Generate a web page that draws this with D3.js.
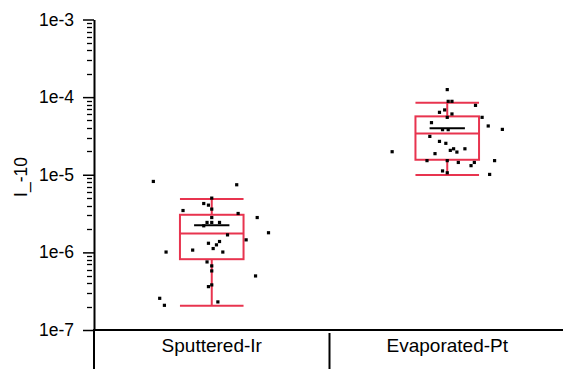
<!DOCTYPE html>
<html>
<head>
<meta charset="utf-8">
<script src="https://cdn.jsdelivr.net/npm/d3@7"></script>
<style>
    body { margin: 0; background: #fff; }
    svg { display: block; font-family: "Liberation Sans", Arial, sans-serif; }
</style>
</head>
<body>
<script>
// Categories on the x-axis
var categories = ['Sputtered-Ir', 'Evaporated-Pt'];

// Box statistics per category
var whiskerLow = [2.06e-7, 9.9e-6];
var q1 = [8.17e-7, 1.56e-5];
var median = [1.75e-6, 3.41e-5];
var q3 = [3.05e-6, 5.65e-5];
var whiskerHigh = [4.86e-6, 8.49e-5];
var mean = [2.24e-6, 3.96e-5];

// Raw points of Sputtered-Ir, with horizontal jitter (fraction of category width)
var irValues = [8.2e-6, 7.43e-6, 5.0e-6, 4.26e-6, 4.06e-6, 3.61e-6, 3.46e-6, 3.17e-6, 2.81e-6, 2.81e-6,
    2.43e-6, 2.43e-6, 2.43e-6, 2.20e-6, 1.79e-6, 1.68e-6, 1.45e-6, 1.38e-6, 1.31e-6, 1.25e-6,
    1.12e-6, 1.07e-6, 1.01e-6, 1.01e-6, 7.53e-7, 6.70e-7, 5.77e-7, 4.97e-7, 3.81e-7, 3.62e-7,
    2.56e-7, 2.30e-7, 2.08e-7];
var irJitter = [-0.248, 0.106, 0, -0.034, -0.014, 0, -0.122, 0.112, 0, 0.193,
    -0.020, 0, 0.033, -0.034, 0.241, 0.067, 0.146, 0.033, -0.014, 0.020,
    0.006, -0.081, -0.194, 0.047, -0.020, 0, 0, 0.186, 0, -0.014,
    -0.221, 0.026, -0.201];

// Raw points of Evaporated-Pt
var ptValues = [1.25e-4, 8.83e-5, 8.83e-5, 7.83e-5, 6.84e-5, 6.37e-5, 6.07e-5, 5.49e-5, 5.49e-5, 4.69e-5,
    4.25e-5, 3.84e-5, 3.81e-5, 3.81e-5, 3.12e-5, 2.69e-5, 2.54e-5, 2.16e-5, 2.16e-5, 2.06e-5,
    1.98e-5, 1.96e-5, 1.87e-5, 1.52e-5, 1.52e-5, 1.52e-5, 1.44e-5, 1.44e-5, 1.31e-5, 1.12e-5,
    1.06e-5, 1.01e-5];
var ptJitter = [0, 0.004, 0.020, 0.120, -0.011, -0.033, 0.020, 0, 0.148, -0.067,
    0.174, 0.234, -0.020, 0.004, -0.074, -0.033, -0.006, 0.027, 0.075, 0.013,
    -0.234, 0.041, -0.052, -0.086, 0, 0.201, 0.047, 0.115, 0.101, -0.020,
    0, 0.180];

// Major tick values and labels
var majorTicks = [1e-3, 1e-4, 1e-5, 1e-6, 1e-7];
var majorLabels = ['1e-3', '1e-4', '1e-5', '1e-6', '1e-7'];

var yLabel = 'I_-10';

var width = 563,
    height = 369,
    margin = { top: 19.5, right: -2, bottom: 39, left: 94 };

var boxColor = '#e8344f';

// Scales
var yScale = d3.scaleLog().domain([1e-7, 1e-3]).range([height - margin.bottom, margin.top]);
var xScale = d3.scaleBand().domain(categories).range([margin.left, width - margin.right]);
var bw = xScale.bandwidth();

function center(c) {
    return xScale(c) + bw / 2;
}

var svg = d3.select('body').append('svg')
    .attr('width', width)
    .attr('height', height);

// minor ticks: 2..9 in each decade
var minorTicks = [];
for (var e = -7; e < -3; e++) {
    for (var m = 2; m <= 9; m++) {
        minorTicks.push(m * Math.pow(10, e));
    }
}

svg.append('g').selectAll('line')
    .data(minorTicks)
    .enter().append('line')
    .attr('x1', margin.left - 7)
    .attr('x2', margin.left - 2)
    .attr('y1', function (d) { return Math.round(yScale(d)) + 0.5; })
    .attr('y2', function (d) { return Math.round(yScale(d)) + 0.5; })
    .attr('stroke', '#000')
    .attr('stroke-width', 1.3);

// y axis with major ticks
var yAxis = d3.axisLeft(yScale)
    .tickValues(majorTicks)
    .tickSize(11)
    .tickSizeOuter(0)
    .tickPadding(9)
    .tickFormat(function (d, i) { return majorLabels[i]; });

var gy = svg.append('g')
    .attr('transform', 'translate(' + margin.left + ',0)')
    .call(yAxis);
gy.select('.domain').attr('stroke-width', 2);
gy.selectAll('.tick line').attr('stroke-width', 1.5);
gy.selectAll('.tick text')
    .attr('font-size', 17.5)
    .attr('font-family', '"Liberation Sans", Arial, sans-serif')
    .attr('fill', '#000');

// bottom frame line
var yBottom = yScale(1e-7);
svg.append('line')
    .attr('x1', margin.left - 1)
    .attr('x2', width)
    .attr('y1', yBottom)
    .attr('y2', yBottom)
    .attr('stroke', '#000')
    .attr('stroke-width', 2);

// category separators below the axis
svg.append('g').selectAll('line')
    .data(categories.concat(['end']))
    .enter().append('line')
    .attr('x1', function (d, i) { return margin.left + i * bw; })
    .attr('x2', function (d, i) { return margin.left + i * bw; })
    .attr('y1', function (d, i) { return i == 0 ? yBottom : yBottom + 3; })
    .attr('y2', height)
    .attr('stroke', '#000')
    .attr('stroke-width', 2);

// category labels
svg.append('g').selectAll('text')
    .data(categories)
    .enter().append('text')
    .attr('x', function (d) { return center(d); })
    .attr('y', 352)
    .attr('text-anchor', 'middle')
    .attr('font-size', 19)
    .text(function (d) { return d; });

// y label
svg.append('text')
    .attr('transform', 'translate(26.5,177) rotate(-90)')
    .attr('text-anchor', 'middle')
    .attr('font-size', 17.5)
    .text(yLabel);

// Box plots
var boxes = categories.map(function (c, i) {
    return {
        cat: c, lo: whiskerLow[i], q1: q1[i], med: median[i],
        q3: q3[i], hi: whiskerHigh[i], mean: mean[i]
    };
});

var boxW = bw * 0.27,
    meanW = bw * 0.15;

var gBox = svg.append('g')
    .attr('fill', 'none')
    .attr('stroke', boxColor)
    .attr('stroke-width', 2);

boxes.forEach(function (b) {
    var cx = center(b.cat);
    // whiskers
    gBox.append('line')
        .attr('x1', cx).attr('x2', cx)
        .attr('y1', yScale(b.lo)).attr('y2', yScale(b.q1));
    gBox.append('line')
        .attr('x1', cx).attr('x2', cx)
        .attr('y1', yScale(b.q3)).attr('y2', yScale(b.hi));
    // caps
    [b.lo, b.hi].forEach(function (v) {
        gBox.append('line')
            .attr('x1', cx - boxW / 2).attr('x2', cx + boxW / 2)
            .attr('y1', yScale(v)).attr('y2', yScale(v));
    });
    // box
    gBox.append('rect')
        .attr('x', cx - boxW / 2)
        .attr('y', yScale(b.q3))
        .attr('width', boxW)
        .attr('height', yScale(b.q1) - yScale(b.q3));
    // median
    gBox.append('line')
        .attr('x1', cx - boxW / 2).attr('x2', cx + boxW / 2)
        .attr('y1', yScale(b.med)).attr('y2', yScale(b.med));
    // mean
    svg.append('line')
        .attr('x1', cx - meanW / 2).attr('x2', cx + meanW / 2)
        .attr('y1', yScale(b.mean)).attr('y2', yScale(b.mean))
        .attr('stroke', '#000')
        .attr('stroke-width', 2);
});

// data points
var points = [];
irValues.forEach(function (v, i) { points.push({ cat: categories[0], v: v, j: irJitter[i] }); });
ptValues.forEach(function (v, i) { points.push({ cat: categories[1], v: v, j: ptJitter[i] }); });

var ps = 3.2;
svg.append('g').selectAll('rect')
    .data(points)
    .enter().append('rect')
    .attr('x', function (d) { return center(d.cat) + d.j * bw - ps / 2; })
    .attr('y', function (d) { return yScale(d.v) - ps / 2; })
    .attr('width', ps)
    .attr('height', ps)
    .attr('fill', '#000');
</script>
</body>
</html>
